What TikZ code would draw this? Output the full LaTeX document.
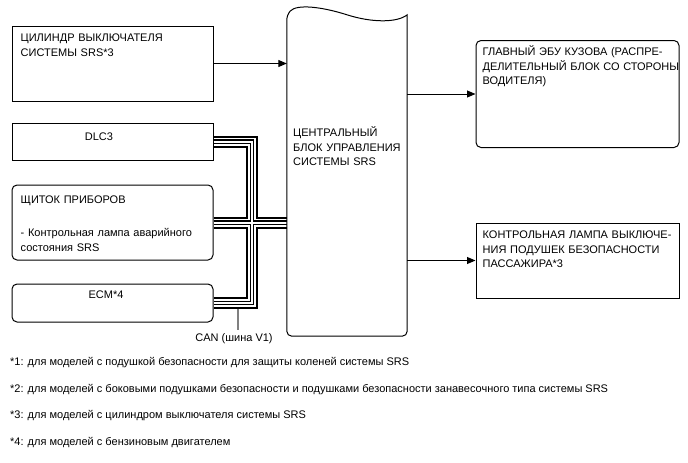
\documentclass[tikz,border=0pt]{standalone}
\usepackage{fontspec}
\setmainfont{Liberation Sans}
\usetikzlibrary{arrows.meta}
\begin{document}
\begin{tikzpicture}[x=1pt,y=-1pt,
	every node/.style={font=\fontsize{11}{14.3}\selectfont},
	sqbox/.style={draw,line width=1pt,minimum width=201pt,inner sep=0pt},
	rndbox/.style={sqbox,rounded corners=5pt},
	txt/.style={anchor=base west,inner sep=0pt,text width=205pt,align=left},
	ctxt/.style={anchor=base,inner sep=0pt},
	fnote/.style={anchor=base west,inner sep=0pt},
	arr/.style={line width=1pt,-{Triangle[length=8.5pt,width=7pt]}},
	canline/.style={gray,line width=1.5pt}]
	
	\useasboundingbox (0,0) rectangle (688,463);
	
	\node[sqbox,minimum height=75pt] (cyl) at (112.5,63.5){};
	\node[sqbox,minimum height=37pt] (dlc) at (112.5,141.5){};
	\node[rndbox,minimum height=75pt] (meter) at (112.5,222.5){};
	\node[rndbox,minimum height=38pt] (ecm) at (112.5,303){};
	\node[minimum width=120pt,minimum height=321pt,inner sep=0pt] (ecu) at (347,175.5){};
	\node[rndbox,minimum width=203pt,minimum height=107pt] (body) at (577.5,94){};
	\node[sqbox,minimum width=203pt,minimum height=75pt] (lamp) at (577.5,260.5){};
	
	\node[txt] (cyl-t) at (20.5,41.7){ЦИЛИНДР ВЫКЛЮЧАТЕЛЯ\\СИСТЕМЫ SRS*3};
	\node[ctxt] (dlc-t) at (99,140.7){DLC3};
	\node[txt] (meter-t) at (20.5,203.7){ЩИТОК ПРИБОРОВ};
	\node[txt] (meter-s) at (20.5,236.7){- Контрольная лампа аварийного\\состояния SRS};
	\node[ctxt] (ecm-t) at (106,298.7){ECM*4};
	\node[txt] (ecu-t) at (293,136.7){ЦЕНТРАЛЬНЫЙ\\БЛОК УПРАВЛЕНИЯ\\СИСТЕМЫ SRS};
	\node[txt] (body-t) at (482.5,55.7){ГЛАВНЫЙ ЭБУ КУЗОВА (РАСПРЕ-\\ДЕЛИТЕЛЬНЫЙ БЛОК СО СТОРОНЫ\\ВОДИТЕЛЯ)};
	\node[txt] (lamp-t) at (482.5,238.7){КОНТРОЛЬНАЯ ЛАМПА ВЫКЛЮЧЕ-\\НИЯ ПОДУШЕК БЕЗОПАСНОСТИ\\ПАССАЖИРА*3};
	\node[ctxt,inner sep=4pt] (can) at (234,341.7){CAN (шина V1)};
	
	\coordinate (trunk) at (252,0);
	\coordinate (tap) at (238,309);
	\foreach \w/\c in {12/black,8/white,4.5/black,2/white}
		\draw[line width=\w pt,\c] (dlc.east) -| (trunk |- ecm.east) -- (ecm.east)
			(meter.east) -- (meter.east -| ecu.west);
	\draw[canline] (tap) -- (tap |- can.north);
	
	\draw[line width=1pt] (ecu.north west) .. controls +(10,-11) and +(-25,-8) .. (ecu.north)
		.. controls +(25,8) and +(-10,8) .. (ecu.north east)
		[rounded corners=5pt] -- (ecu.south east) -- (ecu.south west) -- cycle;
	
	\draw[arr] (cyl.east) -- (cyl.east -| ecu.west);
	\draw[arr] (ecu.east |- body.west) -- (body.west);
	\draw[arr] (ecu.east |- lamp.west) -- (lamp.west);
	
	\node[fnote] (fn1) at (10,365.5){*1: для моделей с подушкой безопасности для защиты коленей системы SRS};
	\node[fnote] (fn2) at (10,392.5){*2: для моделей с боковыми подушками безопасности и подушками безопасности занавесочного типа системы SRS};
	\node[fnote] (fn3) at (10,418.5){*3: для моделей с цилиндром выключателя системы SRS};
	\node[fnote] (fn4) at (10,445.5){*4: для моделей с бензиновым двигателем};
\end{tikzpicture}
\end{document}
